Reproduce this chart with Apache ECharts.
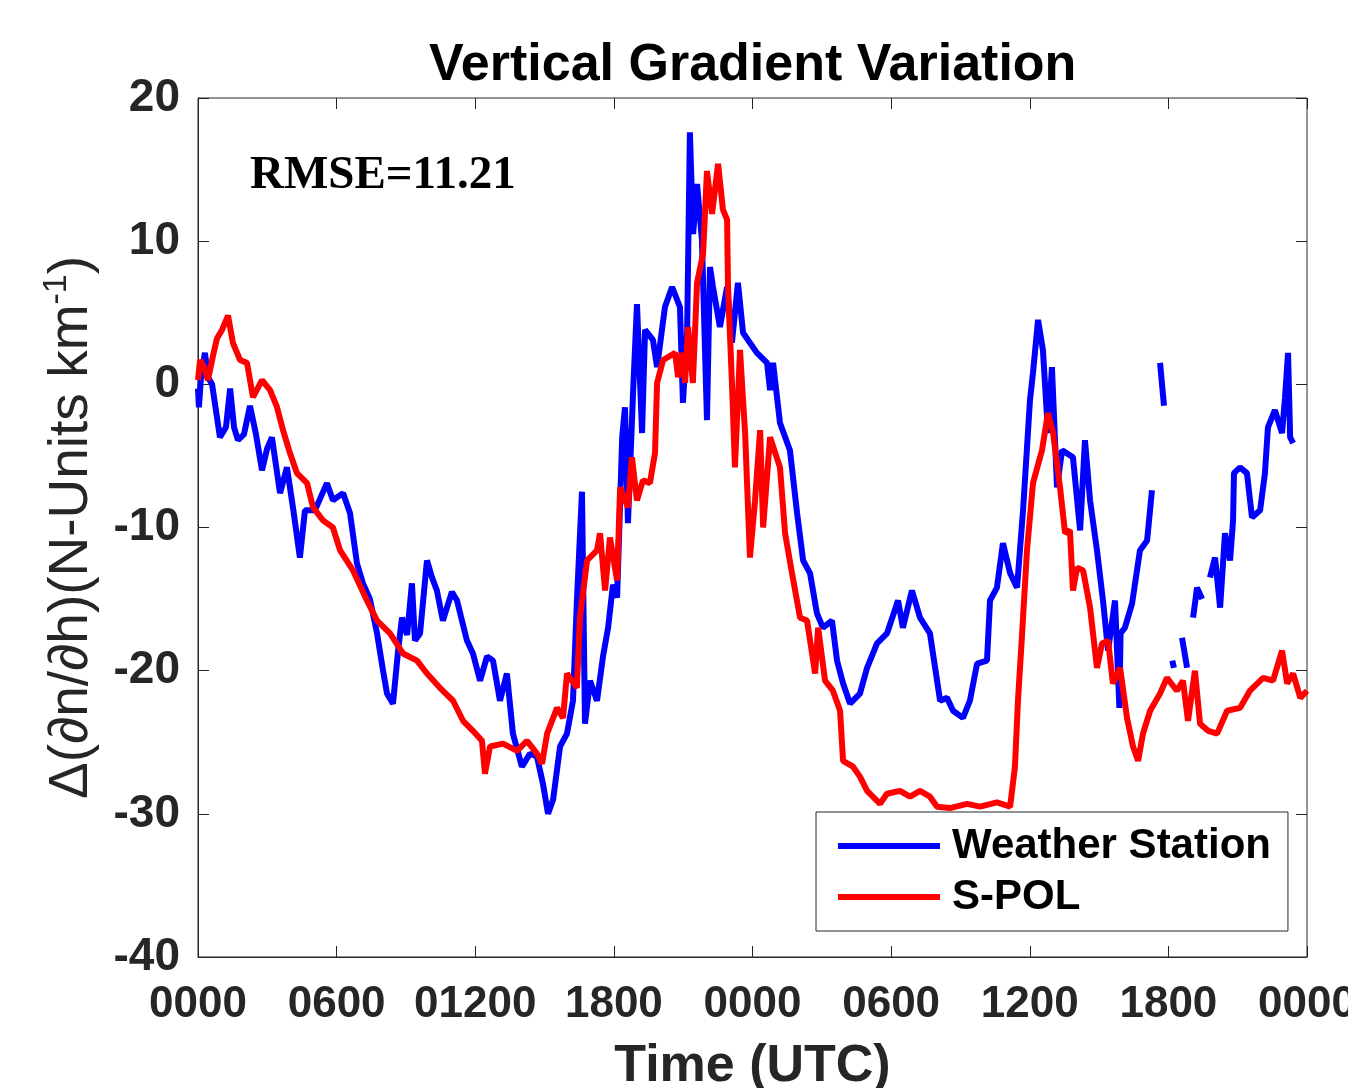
<!DOCTYPE html>
<html>
<head>
<meta charset="utf-8">
<script src="https://cdn.jsdelivr.net/npm/echarts@6/dist/echarts.min.js"></script>
<style>
html,body{margin:0;padding:0;background:#fff;}
#chart{width:1348px;height:1088px;}
</style>
</head>
<body>
<div id="chart"></div>
<script>
// ---- data (time in hours from start, value in N-Units/km) ----
const xTickLabels = ["0000","0600","01200","1800","0000","0600","1200","1800","0000"];
const yTicks = [-40,-30,-20,-10,0,10,20];

const stationTimes = [0,0.04,0.13,0.30,0.43,0.61,0.95,1.21,1.39,1.56,1.73,1.99,2.25,2.51,2.77,2.99,3.20,3.55,3.85,4.11,4.41,4.63,5.06,5.28,5.58,5.84,6.28,6.58,6.88,7.14,7.44,7.75,8.01,8.18,8.44,8.66,8.83,9.05,9.26,9.39,9.61,9.91,10.13,10.34,10.60,10.99,11.21,11.64,11.90,12.21,12.51,12.77,13.07,13.37,13.63,14.02,14.37,14.67,14.93,15.15,15.37,15.67,15.97,16.23,16.40,16.62,16.75,16.97,17.27,17.53,17.75,17.96,18.14,18.36,18.48,18.61,18.83,19.00,19.22,19.35,19.69,19.87,20.21,20.52,20.86,20.99,21.17,21.29,21.43,21.60,21.81,22.03,22.16,22.29,22.59,22.90,23.11,23.37,23.59,24.19,24.63,24.76,24.89,25.19,25.62,25.93,26.19,26.49,26.79,27.05,27.44,27.66,27.92,28.22,28.65,28.96,29.39,29.82,30.30,30.51,30.90,31.25,31.68,32.12,32.42,32.68,33.11,33.41,33.72,34.15,34.28,34.58,34.84,35.15,35.45,35.71,36.01,36.14,36.36,36.57,36.79,36.96,37.18,37.40,37.87,38.18,38.39,38.61,38.91,39.17,39.39,39.69,39.88,39.93,40.12,40.43,40.77,41.08,41.29,41.45,41.64,41.81,42.00,42.17,42.24,42.40,42.59,42.81,42.95,43.07,43.24,43.46,43.62,43.80,44.02,44.24,44.45,44.67,44.80,44.84,45.10,45.40,45.62,45.97,46.18,46.31,46.61,46.92,47.05,47.18,47.27,47.40];
const stationValues = [-0.3,-1.6,0.5,2.2,0.5,0,-3.7,-3.0,-0.3,-3.0,-3.9,-3.5,-1.5,-3.5,-6.0,-4.5,-3.7,-7.6,-5.8,-8.6,-12.1,-8.8,-8.8,-8.0,-6.9,-8.1,-7.6,-9.0,-12.5,-13.9,-15.0,-17.4,-20.0,-21.6,-22.3,-18.6,-16.3,-17.5,-13.9,-17.9,-17.4,-12.3,-13.5,-14.4,-16.5,-14.5,-15.1,-17.9,-18.8,-20.7,-19.0,-19.3,-22.1,-20.2,-24.4,-26.7,-25.8,-26.0,-27.9,-30.0,-29.0,-25.3,-24.4,-22.1,-15.1,-7.5,-23.7,-20.7,-22.1,-19.0,-17.0,-14.0,-14.9,-3.7,-1.6,-9.7,-0.6,5.6,-3.4,3.8,3.1,1.2,5.4,6.8,5.4,-1.3,3.6,17.6,10.5,14.0,10.1,-2.5,8.2,6.8,4.0,6.8,2.9,7.1,3.6,2.2,1.5,-0.4,1.5,-2.7,-4.6,-9.0,-12.3,-13.2,-16.0,-17.0,-16.5,-19.3,-20.9,-22.3,-21.6,-19.8,-18.1,-17.4,-15.1,-17.0,-14.4,-16.3,-17.4,-22.1,-21.9,-22.8,-23.3,-22.1,-19.5,-19.3,-15.1,-14.2,-11.1,-13.2,-14.2,-8.8,-1.1,0.8,4.5,2.4,-3.4,1.2,-7.2,-4.6,-5.1,-10.2,-3.9,-8.1,-11.6,-15.1,-18.6,-15.1,-22.6,-17.4,-17.0,-15.3,-11.6,-10.9,-7.4,null,1.5,-1.5,null,-19.3,-19.8,null,-17.7,-19.8,null,-16.3,-14.2,-15.0,null,-13.5,-12.1,-15.6,-10.4,-12.3,-9.5,-6.2,-5.8,-6.2,-9.3,-8.8,-6.2,-3.0,-1.8,-3.4,-0.9,2.2,-3.7,-4.1];

const spolTimes = [0,0.09,0.26,0.43,0.65,0.82,1.04,1.30,1.51,1.82,2.12,2.38,2.77,3.12,3.42,3.68,3.98,4.28,4.72,4.98,5.41,5.84,6.15,6.71,7.31,7.75,8.31,8.87,9.48,9.91,10.47,11.04,11.47,11.90,12.29,12.42,12.64,13.20,13.81,14.24,14.67,14.89,15.11,15.54,15.80,15.97,16.40,16.53,16.84,17.27,17.40,17.62,17.83,18.14,18.27,18.61,18.78,19.00,19.26,19.56,19.78,19.87,20.13,20.65,20.78,20.95,21.08,21.21,21.42,21.60,21.86,22.03,22.25,22.51,22.72,22.90,22.94,23.11,23.24,23.46,23.59,23.68,23.89,24.11,24.33,24.46,24.76,25.19,25.41,25.71,26.06,26.36,26.71,26.84,27.14,27.48,27.79,27.92,28.35,28.65,28.96,29.52,29.82,30.38,30.82,31.25,31.68,31.99,32.55,33.28,33.85,34.58,35.15,35.36,35.49,35.67,35.88,36.14,36.53,36.79,37.01,37.31,37.53,37.74,37.87,38.05,38.31,38.61,38.91,39.13,39.39,39.60,39.91,40.21,40.47,40.69,40.90,41.21,41.64,41.94,42.37,42.63,42.85,43.15,43.37,43.72,44.11,44.54,45.10,45.53,46.10,46.53,46.92,47.14,47.40,47.71,48.00];
const spolValues = [0.3,1.7,1.2,0.3,2.0,3.2,3.8,4.8,2.9,1.7,1.5,-0.9,0.3,-0.4,-1.6,-3.2,-4.8,-6.2,-6.9,-8.6,-9.5,-10.0,-11.6,-13.0,-15.1,-16.5,-17.4,-18.8,-19.3,-20.2,-21.2,-22.1,-23.5,-24.2,-24.9,-27.2,-25.3,-25.1,-25.6,-24.9,-25.8,-26.5,-24.4,-22.6,-23.3,-20.2,-21.2,-16.3,-12.3,-11.6,-10.4,-14.4,-10.7,-13.7,-7.2,-8.6,-5.1,-8.1,-6.7,-6.9,-4.8,0.1,1.7,2.2,0.5,2.2,0.1,4.0,0.1,7.1,9.1,14.9,11.9,15.4,12.2,11.5,6.8,0.1,-5.8,2.4,-1.1,-3.4,-12.1,-8.1,-3.2,-10.0,-3.7,-5.8,-10.4,-13.2,-16.3,-16.5,-20.2,-17.0,-20.7,-21.4,-22.8,-26.3,-26.7,-27.4,-28.4,-29.3,-28.6,-28.4,-28.8,-28.4,-28.8,-29.5,-29.6,-29.3,-29.5,-29.2,-29.5,-26.7,-22.1,-17.4,-11.6,-6.9,-4.6,-2.0,-3.4,-7.2,-10.4,-10.2,-14.4,-12.8,-13.0,-15.6,-19.8,-18.1,-17.9,-20.9,-19.8,-23.3,-25.3,-26.3,-24.4,-22.8,-21.6,-20.5,-21.4,-20.7,-23.5,-20.0,-23.7,-24.2,-24.4,-22.8,-22.6,-21.4,-20.5,-20.7,-18.6,-20.9,-20.2,-21.9,-21.4];

const seriesNames = ["Weather Station","S-POL"];
const titleText = "Vertical Gradient Variation";
const rmseText = "RMSE=11.21";

function pairs(ts, vs){ return ts.map((t,i)=>[t, vs[i]===null ? '-' : vs[i]]); }

const chart = echarts.init(document.getElementById('chart'), null, {renderer:'canvas'});
const AX = '#262626';
const FONT = 'Liberation Sans, Arial, sans-serif';
const tickFont = {fontFamily:FONT, fontWeight:'bold', color:'#262626'};

chart.setOption({
  animation:false,
  backgroundColor:'#ffffff',
  title:{
    text:titleText,
    left:424, top:35,
    textStyle:{fontFamily:FONT, fontWeight:'bold', fontSize:52, color:'#000'}
  },
  grid:{left:198, right:41, top:98, bottom:131, show:true, borderColor:AX, borderWidth:1, backgroundColor:'#fff',
        containLabel:false, outerBoundsMode:'none'},
  legend:{
    orient:'vertical', left:816, top:812,
    data:seriesNames,
    icon:'rect', itemWidth:102, itemHeight:6, itemGap:7,
    padding:[12,17,12,22],
    backgroundColor:'#fff', borderColor:AX, borderWidth:1,
    textStyle:{fontFamily:FONT, fontWeight:'bold', fontSize:42, color:'#000', lineHeight:44, padding:[0,0,0,7]}
  },
  xAxis:[{
    type:'value', min:0, max:48, interval:6,
    name:'Time (UTC)', nameLocation:'middle', nameGap:84,
    nameTextStyle:{fontFamily:FONT, fontWeight:'bold', fontSize:52, color:'#262626'},
    axisLine:{show:true, onZero:false, lineStyle:{color:AX, width:1}},
    axisTick:{show:true, inside:true, length:11, lineStyle:{color:AX}},
    axisLabel:Object.assign({fontSize:44, margin:26, formatter:v=>xTickLabels[Math.round(v/6)]}, tickFont),
    splitLine:{show:false}
  },{
    type:'value', min:0, max:48, interval:6, position:'top',
    axisLine:{show:false, onZero:false}, axisTick:{show:true, inside:true, length:11, lineStyle:{color:AX}},
    axisLabel:{show:false}, splitLine:{show:false}
  }],
  yAxis:[{
    type:'value', min:-40, max:20, interval:10,
    name:'Δ(∂n/∂h)(N-Units km{sup|-1})',
    nameLocation:'middle', nameGap:94, nameRotate:90,
    nameTextStyle:{fontFamily:FONT, fontSize:55, color:'#262626',
      rich:{sup:{fontFamily:FONT, fontSize:34, color:'#262626', verticalAlign:'top', padding:[0,0,30,0]}}},
    axisLine:{show:true, onZero:false, lineStyle:{color:AX, width:1}},
    axisTick:{show:true, inside:true, length:11, lineStyle:{color:AX}},
    axisLabel:Object.assign({fontSize:46, margin:18, formatter:v=>String(v)}, tickFont),
    splitLine:{show:false}
  },{
    type:'value', min:-40, max:20, interval:10, position:'right',
    axisLine:{show:false, onZero:false}, axisTick:{show:true, inside:true, length:11, lineStyle:{color:AX}},
    axisLabel:{show:false}, splitLine:{show:false}
  }],
  graphic:[{
    type:'text', left:250, top:152, silent:true,
    style:{text:rmseText, fontFamily:'Liberation Serif, Times New Roman, serif', fontWeight:'bold', fontSize:47, fill:'#000'}
  }],
  series:[{
    name:seriesNames[0], type:'line', data:pairs(stationTimes, stationValues),
    showSymbol:false, symbol:'none', connectNulls:false, clip:true,
    lineStyle:{color:'#0000ff', width:6}, itemStyle:{color:'#0000ff'}, z:2
  },{
    name:seriesNames[1], type:'line', data:pairs(spolTimes, spolValues),
    showSymbol:false, symbol:'none', clip:true,
    lineStyle:{color:'#ff0000', width:6}, itemStyle:{color:'#ff0000'}, z:3
  }]
});
</script>
</body>
</html>
